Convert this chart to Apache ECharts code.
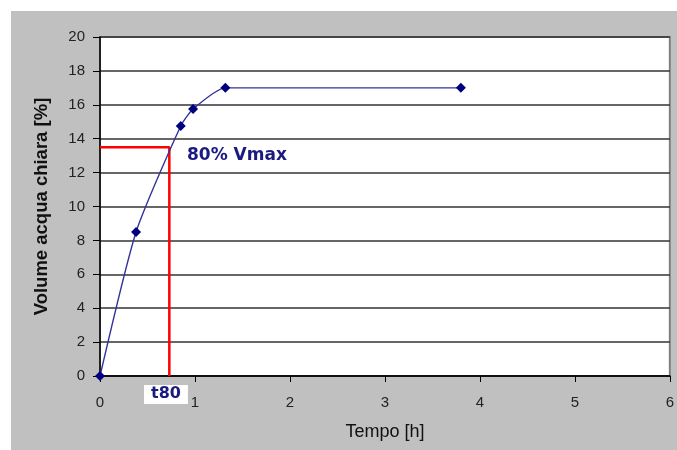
<!DOCTYPE html>
<html><head><meta charset="utf-8">
<script src="https://cdn.jsdelivr.net/npm/echarts@6/dist/echarts.min.js"></script>
<style>html,body{margin:0;padding:0;background:#fff}#c{width:677px;height:450px}</style>
</head><body><div id="c"></div>
<script>
var tempo = [0, 0.38, 0.85, 0.98, 1.32, 3.8];
var volume = [0, 8.5, 14.75, 15.75, 17, 17];
var t80 = 0.73;
var v80 = 13.5;
var xTicks = [0, 1, 2, 3, 4, 5, 6];
var yTicks = [0, 2, 4, 6, 8, 10, 12, 14, 16, 18, 20];

var chart = echarts.init(document.getElementById('c'));
var curve = tempo.map(function (t, i) { return [t, volume[i]]; });
var redPath = [[0, v80], [t80, v80], [t80, 0]];
chart.setOption({
  animation: false,
  backgroundColor: '#ffffff',
  graphic: [
    { type: 'rect', z: -10, shape: { x: 11, y: 11, width: 666, height: 439 }, style: { fill: '#c0c0c0' } },
    { type: 'text', z: 100, left: 187, top: 147, style: { text: '80% Vmax', font: 'bold 17px "DejaVu Sans", Verdana, sans-serif', fill: '#1a1a80' } },
    { type: 'text', z: 100, left: 144, top: 385, style: { text: 't80', font: 'bold 16px "DejaVu Sans", Verdana, sans-serif', fill: '#1a1a80', backgroundColor: '#ffffff', padding: [1, 7, 2, 7] } }
  ],
  grid: { left: 100, right: 5, top: 37, bottom: 74, show: true, backgroundColor: '#ffffff', borderColor: '#808080', borderWidth: 2 },
  xAxis: {
    type: 'value', min: 0, max: 6, interval: 1,
    name: 'Tempo [h]', nameLocation: 'middle', nameGap: 47,
    nameTextStyle: { fontFamily: '"Liberation Sans", Arial', fontSize: 18, color: '#111' },
    axisLine: { lineStyle: { color: '#000', width: 1.5 } },
    axisTick: { show: true, length: 6, lineStyle: { color: '#000' } },
    axisLabel: { margin: 19, fontFamily: '"Liberation Sans", Arial', fontSize: 15, color: '#222' },
    splitLine: { show: false }
  },
  yAxis: {
    type: 'value', min: 0, max: 20, interval: 2,
    name: 'Volume acqua chiara [%]', nameLocation: 'middle', nameGap: 49,
    nameTextStyle: { fontFamily: '"Liberation Sans", Arial', fontSize: 18.5, fontWeight: 'bold', color: '#111' },
    axisLine: { show: true, lineStyle: { color: '#000', width: 1.5 } },
    axisTick: { show: true, length: 7, lineStyle: { color: '#000' } },
    axisLabel: { margin: 15, fontFamily: '"Liberation Sans", Arial', fontSize: 15, color: '#222' },
    splitLine: { show: true, lineStyle: { color: '#333333', width: 1.5 } }
  },
  series: [
    { type: 'line', data: redPath, symbol: 'none', lineStyle: { color: '#ff0000', width: 2.5 }, z: 3 },
    { type: 'line', data: curve, smooth: 0.2, symbol: 'diamond', symbolSize: 10,
      itemStyle: { color: '#000080' }, lineStyle: { color: '#333399', width: 1.4 }, z: 5 }
  ]
});
</script></body></html>
